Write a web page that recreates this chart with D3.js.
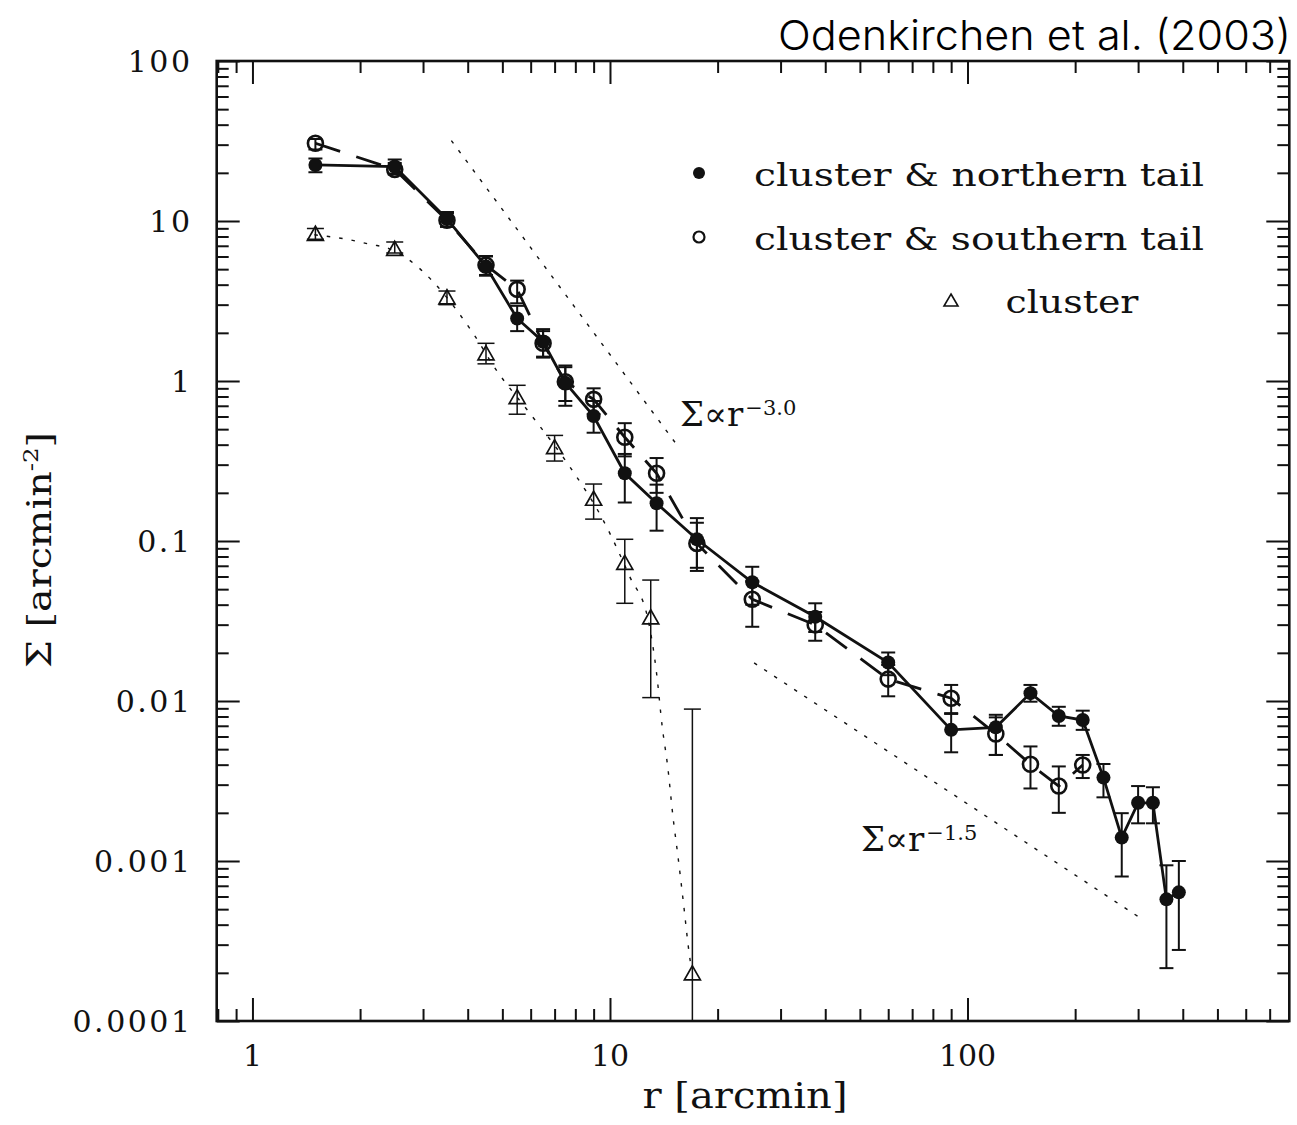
<!DOCTYPE html>
<html>
<head>
<meta charset="utf-8">
<script src="https://cdn.jsdelivr.net/npm/d3@7"></script>
<style>
  body { margin: 0; background: #fff; }
</style>
</head>
<body>
<svg id="chart" width="1297" height="1125"></svg>
<script>
// cluster & northern tail (filled dots)
var northR  = [1.5, 2.5, 3.5, 4.5, 5.5, 6.5, 7.5, 9, 11, 13.5, 17.5, 25, 37.5, 60, 90, 120, 150, 180, 210, 240, 270, 300, 330, 360, 390];
var northS  = [22.4, 21.9, 10.3, 5.2, 2.46, 1.76, 0.976, 0.604, 0.265, 0.172, 0.1025, 0.0552, 0.0336, 0.0174, 0.0066, 0.00685, 0.0112, 0.00806, 0.0076, 0.00332, 0.0014, 0.00231, 0.00231, 0.000576, 0.000637];
var northLo = [20.2, 19.8, 9.2, 4.55, 2.05, 1.42, 0.70, 0.475, 0.174, 0.116, 0.065, 0.040, 0.027, 0.0145, 0.00478, 0.0046, 0.0099, 0.0070, 0.0066, 0.0025, 0.0008, 0.00172, 0.00172, 0.000214, 0.000278];
var northHi = [24.6, 24.2, 11.4, 6.05, 2.95, 2.11, 1.25, 0.75, 0.35, 0.225, 0.139, 0.069, 0.0408, 0.0201, 0.0083, 0.0082, 0.0126, 0.0092, 0.0087, 0.00404, 0.00199, 0.00294, 0.00289, 0.00094, 0.0010];

// cluster & southern tail (open circles)
var southR  = [1.5, 2.5, 3.5, 4.5, 5.5, 6.5, 7.5, 9, 11, 13.5, 17.5, 25, 37.5, 60, 90, 120, 150, 180, 210];
var southS  = [30.6, 21.0, 10.1, 5.3, 3.74, 1.72, 0.99, 0.768, 0.445, 0.265, 0.0965, 0.0432, 0.0299, 0.0137, 0.0104, 0.00622, 0.00402, 0.00294, 0.00398];
var southLo = [28.0, 19.5, 9.2, 4.6, 3.06, 1.40, 0.75, 0.62, 0.338, 0.20, 0.068, 0.0291, 0.0238, 0.0107, 0.0084, 0.0046, 0.00284, 0.0020, 0.0033];
var southHi = [32.5, 23.0, 11.2, 6.0, 4.24, 2.05, 1.22, 0.90, 0.545, 0.33, 0.13, 0.056, 0.036, 0.0168, 0.0126, 0.0079, 0.0052, 0.0039, 0.0046];

// cluster only (triangles)
var clusR  = [1.5, 2.5, 3.5, 4.5, 5.5, 7, 9, 11, 13, 17];
var clusS  = [8.38, 6.75, 3.36, 1.50, 0.798, 0.389, 0.185, 0.0736, 0.0336, 0.0002];
var clusLo = [7.7, 6.3, 3.0, 1.28, 0.62, 0.316, 0.137, 0.0408, 0.0105, 0.00001];
var clusHi = [8.97, 7.4, 3.65, 1.72, 0.94, 0.457, 0.227, 0.1025, 0.057, 0.0089];

// King profile fit
var kingR = [1.49, 1.83, 2.17, 2.35, 2.70, 3.20, 3.72, 4.14, 4.81, 5.97, 7.72, 9.57, 11.36, 12.79, 13.5, 14.0, 14.5, 15.0, 15.5, 16.06, 16.6, 16.8];
var kingS = [8.2, 7.7, 7.1, 6.85, 5.85, 4.18, 2.78, 1.99, 1.17, 0.628, 0.291, 0.135, 0.0598, 0.0320, 0.0149, 0.0069, 0.0039, 0.0019, 0.00106, 0.00054, 0.00028, 0.00023];

// power law guide lines (end points)
var steepR = [3.6, 15.5];
var steepS = [31.8, 0.39];
var flatR  = [25.3, 310];
var flatS  = [0.0173, 0.000428];

// axis ticks
var xMajor = [1, 10, 100];
var xMinor = [0.8, 0.9, 2, 3, 4, 5, 6, 7, 8, 9, 20, 30, 40, 50, 60, 70, 80, 90, 200, 300, 400, 500, 600, 700];
var yMajor = [0.0001, 0.001, 0.01, 0.1, 1, 10, 100];
var yMajorLabels = ["0.0001", "0.001", "0.01", "0.1", "1", "10", "100"];
var xMajorLabels = ["1", "10", "100"];
var yMinor = [];
yMajor.slice(0, -1).forEach(function (d) {
    [2, 3, 4, 5, 6, 7, 8, 9].forEach(function (m) { yMinor.push(d * m); });
});

var serif = "DejaVu Serif";
var ink = "#111";

var plotL = 216.7, plotR = 1289.3, plotT = 61, plotB = 1021;

var x = d3.scaleLog().domain([Math.pow(10, -0.1), Math.pow(10, 2.9)]).range([plotL, plotR]);
var y = d3.scaleLog().domain([1e-4, 100]).range([plotB, plotT]);

var svg = d3.select("#chart");

svg.append("defs").append("clipPath").attr("id", "plotclip")
    .append("rect").attr("x", plotL).attr("y", plotT)
    .attr("width", plotR - plotL).attr("height", plotB - plotT);

function rows(r, s, lo, hi) {
    return r.map(function (d, i) { return { r: d, s: s[i], lo: lo[i], hi: hi[i] }; });
}
var north = rows(northR, northS, northLo, northHi);
var south = rows(southR, southS, southLo, southHi);
var clus = rows(clusR, clusS, clusLo, clusHi);

//ticks on all four sides, pointing inward
function tickSide(axis, scale, vals, len, translate) {
    svg.append("g")
        .attr("transform", translate)
        .call(axis(scale).tickValues(vals).tickSizeInner(-len).tickSizeOuter(0).tickFormat(""))
        .call(function (g) {
            g.select(".domain").remove();
            g.selectAll("line").attr("stroke", ink).attr("stroke-width", 2);
        });
}
tickSide(d3.axisBottom, x, xMajor, 23, "translate(0," + plotB + ")");
tickSide(d3.axisBottom, x, xMinor, 12, "translate(0," + plotB + ")");
tickSide(d3.axisTop, x, xMajor, 23, "translate(0," + plotT + ")");
tickSide(d3.axisTop, x, xMinor, 12, "translate(0," + plotT + ")");
tickSide(d3.axisLeft, y, yMajor, 23, "translate(" + plotL + ",0)");
tickSide(d3.axisLeft, y, yMinor, 12, "translate(" + plotL + ",0)");
tickSide(d3.axisRight, y, yMajor, 23, "translate(" + plotR + ",0)");
tickSide(d3.axisRight, y, yMinor, 12, "translate(" + plotR + ",0)");

//frame
svg.append("rect")
    .attr("x", plotL).attr("y", plotT)
    .attr("width", plotR - plotL).attr("height", plotB - plotT)
    .attr("fill", "none").attr("stroke", ink).attr("stroke-width", 2.6);

//tick labels
svg.append("g").selectAll("text")
    .data(yMajor).enter().append("text")
    .attr("x", 192.5)
    .attr("y", function (d) { return y(d) + 11; })
    .attr("text-anchor", "end")
    .style("font-family", serif).style("font-size", "30px")
    .style("letter-spacing", "2.5px").attr("fill", ink)
    .text(function (d, i) { return yMajorLabels[i]; });

svg.append("g").selectAll("text")
    .data(xMajor).enter().append("text")
    .attr("x", function (d) { return x(d); })
    .attr("y", 1066)
    .attr("text-anchor", "middle")
    .style("font-family", serif).style("font-size", "30px").attr("fill", ink)
    .text(function (d, i) { return xMajorLabels[i]; });

//axis titles
svg.append("text")
    .attr("x", 745).attr("y", 1108)
    .attr("text-anchor", "middle")
    .attr("textLength", 205).attr("lengthAdjust", "spacingAndGlyphs")
    .style("font-family", serif).style("font-size", "35px").attr("fill", ink)
    .text("r [arcmin]");

var yt = svg.append("text")
    .attr("transform", "translate(51,550)rotate(-90)")
    .attr("text-anchor", "middle")
    .attr("textLength", 236).attr("lengthAdjust", "spacingAndGlyphs")
    .style("font-family", serif).style("font-size", "34px").attr("fill", ink);
yt.append("tspan").text("Σ [arcmin");
yt.append("tspan").attr("dy", -13).style("font-size", "21px").text("-2");
yt.append("tspan").attr("dy", 13).text("]");

//title
svg.append("text")
    .attr("x", 1291).attr("y", 50)
    .attr("text-anchor", "end")
    .attr("textLength", 513).attr("lengthAdjust", "spacingAndGlyphs")
    .style("font-family", "Inter").style("font-weight", 300).style("font-size", "41px").attr("fill", "#000")
    .text("Odenkirchen et al. (2003)");

var plot = svg.append("g").attr("clip-path", "url(#plotclip)");

var line = d3.line()
    .x(function (d) { return x(d.r); })
    .y(function (d) { return y(d.s); });

//guide lines
function pairs(r, s) { return r.map(function (d, i) { return { r: d, s: s[i] }; }); }

plot.append("path")
    .attr("d", line(pairs(steepR, steepS)))
    .attr("fill", "none").attr("stroke", ink).attr("stroke-width", 1.4)
    .attr("stroke-dasharray", "3.5,8.5");
plot.append("path")
    .attr("d", line(pairs(flatR, flatS)))
    .attr("fill", "none").attr("stroke", ink).attr("stroke-width", 1.4)
    .attr("stroke-dasharray", "3.5,8.5");
plot.append("path")
    .attr("d", line.curve(d3.curveMonotoneX)(pairs(kingR, kingS)))
    .attr("fill", "none").attr("stroke", ink).attr("stroke-width", 1.4)
    .attr("stroke-dasharray", "3.5,9");
line.curve(d3.curveLinear);

//error bars
function errorBars(data, cap, w) {
    var g = plot.append("g").attr("stroke", ink).attr("stroke-width", w);
    g.selectAll(".v").data(data).enter().append("line")
        .attr("x1", function (d) { return x(d.r); }).attr("x2", function (d) { return x(d.r); })
        .attr("y1", function (d) { return y(d.lo); }).attr("y2", function (d) { return y(d.hi); });
    g.selectAll(".t").data(data).enter().append("line")
        .attr("x1", function (d) { return x(d.r) - cap; }).attr("x2", function (d) { return x(d.r) + cap; })
        .attr("y1", function (d) { return y(d.hi); }).attr("y2", function (d) { return y(d.hi); });
    g.selectAll(".b").data(data).enter().append("line")
        .attr("x1", function (d) { return x(d.r) - cap; }).attr("x2", function (d) { return x(d.r) + cap; })
        .attr("y1", function (d) { return y(d.lo); }).attr("y2", function (d) { return y(d.lo); });
}

//triangles (cluster)
errorBars(clus, 8.5, 1.5);
var tri = "M0,-7L8,7L-8,7Z";
plot.append("g").selectAll("path")
    .data(clus).enter().append("path")
    .attr("d", tri)
    .attr("transform", function (d) { return "translate(" + x(d.r) + "," + y(d.s) + ")"; })
    .attr("fill", "none").attr("stroke", ink).attr("stroke-width", 1.7);

//southern tail
plot.append("path")
    .attr("d", line(south))
    .attr("fill", "none").attr("stroke", ink).attr("stroke-width", 2.8)
    .attr("stroke-dasharray", "26,17");
errorBars(south, 7, 2);
plot.append("g").selectAll("circle")
    .data(south).enter().append("circle")
    .attr("cx", function (d) { return x(d.r); })
    .attr("cy", function (d) { return y(d.s); })
    .attr("r", 7.5)
    .attr("fill", "none").attr("stroke", ink).attr("stroke-width", 2.6);

//northern tail
plot.append("path")
    .attr("d", line(north))
    .attr("fill", "none").attr("stroke", ink).attr("stroke-width", 2.8);
errorBars(north, 7, 2);
plot.append("g").selectAll("circle")
    .data(north).enter().append("circle")
    .attr("cx", function (d) { return x(d.r); })
    .attr("cy", function (d) { return y(d.s); })
    .attr("r", 7)
    .attr("fill", ink);

//power law labels
function lawLabel(px, py, exp) {
    var t = svg.append("text")
        .attr("x", px).attr("y", py)
        .style("font-family", serif).style("font-size", "34px").attr("fill", ink);
    t.append("tspan").text("Σ∝r");
    t.append("tspan").attr("dy", -11).attr("dx", 2).style("font-size", "21px").text(exp);
}
lawLabel(680, 426, "−3.0");
lawLabel(861, 851, "−1.5");

//legend
var legend = svg.append("g");
legend.append("circle").attr("cx", 699).attr("cy", 173).attr("r", 6).attr("fill", ink);
legend.append("circle").attr("cx", 699).attr("cy", 237).attr("r", 5.5).attr("fill", "none")
    .attr("stroke", ink).attr("stroke-width", 2.2);
legend.append("path").attr("d", "M0,-6L7,6L-7,6Z")
    .attr("transform", "translate(951,300)")
    .attr("fill", "none").attr("stroke", ink).attr("stroke-width", 1.6);

var legendText = ["cluster & northern tail", "cluster & southern tail", "cluster"];
var legendX = [754, 754, 1005.5];
var legendY = [186, 250, 313];
var legendW = [450, 450, 133];
legend.selectAll("text")
    .data(legendText).enter().append("text")
    .attr("x", function (d, i) { return legendX[i]; })
    .attr("y", function (d, i) { return legendY[i]; })
    .attr("textLength", function (d, i) { return legendW[i]; })
    .attr("lengthAdjust", "spacingAndGlyphs")
    .style("font-family", serif).style("font-size", "31px").attr("fill", ink)
    .text(function (d) { return d; });
</script>
</body>
</html>
